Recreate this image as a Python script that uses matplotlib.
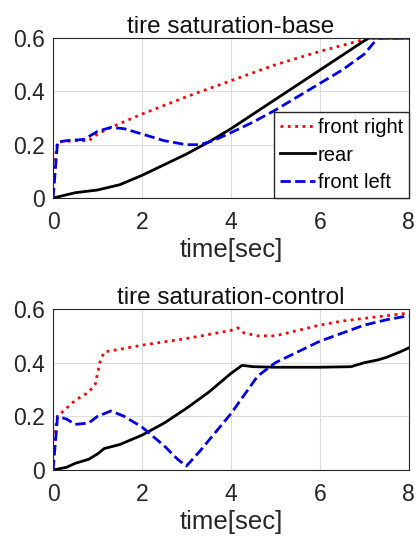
import matplotlib
matplotlib.use("Agg")
from matplotlib import pyplot as plt

plt.rcParams["font.family"] = ["Liberation Sans", "DejaVu Sans"]

# top panel: base
base_fr_t = [0, 0.05, 0.1, 0.5, 0.8, 1.0, 1.3, 2, 3, 4, 5, 6, 7, 7.1, 8]
base_fr_y = [0, 0.15, 0.21, 0.215, 0.215, 0.24, 0.265, 0.315, 0.38, 0.44, 0.5, 0.55, 0.595, 0.6, 0.6]

base_rear_t = [0, 0.5, 1, 1.5, 2, 2.5, 3, 3.5, 4, 4.5, 5, 5.5, 6, 6.5, 7, 7.1, 8]
base_rear_y = [0, 0.02, 0.03, 0.05, 0.085, 0.125, 0.165, 0.21, 0.26, 0.315, 0.37, 0.425, 0.48, 0.535, 0.59, 0.6, 0.6]

base_fl_t = [0, 0.1, 0.3, 0.7, 1.0, 1.3, 1.6, 2, 2.5, 3, 3.3, 3.6, 4, 4.5, 5, 5.5, 6, 6.5, 7, 7.3, 8]
base_fl_y = [0, 0.21, 0.215, 0.22, 0.25, 0.265, 0.26, 0.24, 0.215, 0.2, 0.2, 0.215, 0.245, 0.285, 0.33, 0.38, 0.43, 0.48, 0.54, 0.6, 0.6]

# bottom panel: control
ctrl_fr_t = [0, 0.05, 0.1, 0.3, 0.5, 0.8, 0.95, 1.05, 1.15, 1.5, 2, 3, 4, 4.15, 4.3, 4.6, 5, 5.5, 6, 6.5, 7, 7.5, 8]
ctrl_fr_y = [0, 0.15, 0.2, 0.23, 0.26, 0.29, 0.32, 0.4, 0.44, 0.45, 0.465, 0.49, 0.52, 0.53, 0.51, 0.5, 0.5, 0.52, 0.54, 0.555, 0.565, 0.575, 0.585]

ctrl_rear_t = [0, 0.3, 0.5, 0.8, 1.0, 1.15, 1.5, 2, 2.5, 3, 3.5, 4, 4.25, 4.5, 5, 6, 6.7, 7, 7.3, 7.5, 7.8, 8]
ctrl_rear_y = [0, 0.01, 0.025, 0.04, 0.06, 0.08, 0.095, 0.13, 0.175, 0.23, 0.29, 0.36, 0.39, 0.385, 0.383, 0.383, 0.385, 0.4, 0.41, 0.42, 0.44, 0.455]

ctrl_fl_t = [0, 0.1, 0.3, 0.5, 0.8, 1.0, 1.3, 1.6, 2, 2.5, 2.8, 3, 3.3, 3.7, 4, 4.3, 4.6, 5, 5.5, 6, 6.5, 7, 7.5, 8]
ctrl_fl_y = [0, 0.2, 0.19, 0.17, 0.175, 0.2, 0.22, 0.2, 0.16, 0.09, 0.04, 0.015, 0.07, 0.15, 0.21, 0.28, 0.35, 0.4, 0.44, 0.48, 0.51, 0.54, 0.56, 0.575]

x_ticks = [0, 2, 4, 6, 8]
y_ticks = [0, 0.2, 0.4, 0.6]
y_tick_labels = ["0", "0.2", "0.4", "0.6"]

lw = 2


def style_axes(ax, title):
    ax.set_xlim(0, 8)
    ax.set_ylim(0, 0.6)
    ax.set_xticks(x_ticks)
    ax.set_yticks(y_ticks)
    ax.set_yticklabels(y_tick_labels)
    ax.grid(True, color="#dcdcdc", linewidth=0.8)
    ax.set_axisbelow(True)
    ax.tick_params(labelsize=16.5, colors="#262626", length=0)
    ax.tick_params(axis="x", pad=9)
    ax.tick_params(axis="y", pad=6)
    for spine in ax.spines.values():
        spine.set_color("#262626")
        spine.set_linewidth(0.8)
    ax.set_title(title, fontsize=17.5, color="#111111", pad=3)
    ax.set_xlabel("time[sec]", fontsize=18.5, color="#262626", labelpad=3)


fig = plt.figure(figsize=(4.18, 5.44), dpi=100)
ax1 = fig.add_axes([0.127, 0.636, 0.851, 0.294])
ax2 = fig.add_axes([0.127, 0.136, 0.851, 0.296])

ax1.plot(base_fr_t, base_fr_y, ":", color="red", linewidth=lw, label="front right")
ax1.plot(base_rear_t, base_rear_y, "-", color="black", linewidth=lw, label="rear")
ax1.plot(base_fl_t, base_fl_y, "--", color="#0000e6", linewidth=lw, label="front left")
style_axes(ax1, "tire saturation-base")

ax1.legend(
    loc="lower right",
    fontsize=14.5,
    borderaxespad=0,
    handlelength=1.75,
    handletextpad=0.1,
    labelspacing=0.42,
    borderpad=0.3,
    fancybox=False,
    edgecolor="#262626",
    framealpha=1,
)

ax2.plot(ctrl_fr_t, ctrl_fr_y, ":", color="red", linewidth=lw)
ax2.plot(ctrl_rear_t, ctrl_rear_y, "-", color="black", linewidth=lw)
ax2.plot(ctrl_fl_t, ctrl_fl_y, "--", color="#0000e6", linewidth=lw)
style_axes(ax2, "tire saturation-control")

fig.savefig("out.png", dpi=100)
